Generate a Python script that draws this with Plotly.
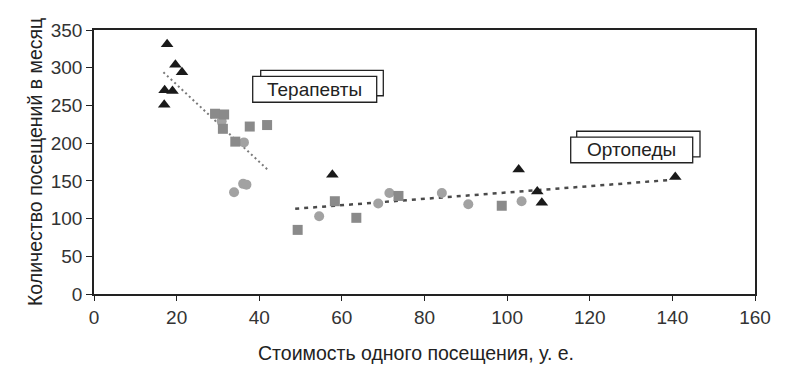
import plotly.graph_objects as go

# ---- data ----
tri_x = [17.7, 19.7, 21.3, 17.1, 19.0, 17.0, 57.7, 102.8, 107.3, 108.4, 140.7]
tri_y = [331, 304, 294, 270, 269, 251, 158, 165, 136, 121, 155]

sq_x = [29.3, 31.5, 31.2, 37.7, 41.9, 34.2, 58.3, 49.3, 63.5, 73.7, 98.7]
sq_y = [239, 238, 219, 222, 224, 202, 123, 85, 101, 130, 117]

circ_x = [30.9, 36.3, 33.9, 36.1, 36.9, 54.5, 68.8, 71.5, 84.2, 90.6, 103.5]
circ_y = [229, 201, 135, 146, 145, 103, 120, 134, 134, 119, 123]

trend_ther_x = [16.8, 42.0]
trend_ther_y = [294, 165]
trend_orth_x = [48.7, 139.0]
trend_orth_y = [113, 151]

x_ticks = [0, 20, 40, 60, 80, 100, 120, 140, 160]
y_ticks = [0, 50, 100, 150, 200, 250, 300, 350]

x_title = "Стоимость одного посещения, у. е."
y_title = "Количество посещений в месяц"
label_ther = "Терапевты"
label_orth = "Ортопеды"

# ---- layout geometry (screen pixels; page body has an 8px margin) ----
W, H = 802, 372
OFF = 8
L, R, T, B = 94, 755, 21, 294
XMAX, YMAX = 160, 350


def px2x(px):
    return (px - L) / (R - L) * XMAX


def py2y(py):
    return (B - py) / (B - T) * YMAX


FONT = "Liberation Sans, Arial, sans-serif"

fig = go.Figure()

fig.add_trace(go.Scatter(x=trend_ther_x, y=trend_ther_y, mode="lines",
                         line=dict(color="#7a7a7a", width=2, dash="2px,3px"),
                         showlegend=False, hoverinfo="skip"))
fig.add_trace(go.Scatter(x=trend_orth_x, y=trend_orth_y, mode="lines",
                         line=dict(color="#4a4a4a", width=2.5, dash="4px,5px"),
                         showlegend=False, hoverinfo="skip"))

fig.add_trace(go.Scatter(x=circ_x, y=circ_y, mode="markers",
                         marker=dict(symbol="circle", size=10, color="#a2a2a2"),
                         showlegend=False))
fig.add_trace(go.Scatter(x=sq_x, y=sq_y, mode="markers",
                         marker=dict(symbol="square", size=10, color="#8a8a8a"),
                         showlegend=False))
fig.add_trace(go.Scatter(x=tri_x, y=tri_y, mode="markers",
                         marker=dict(symbol="triangle-up", size=11, color="#1a1a1a"),
                         showlegend=False))

# label boxes (back box then front box), screen pixel coordinates
boxes = [
    ((260.7, 62.7, 383.3, 89.0), (252.7, 69.0, 376.7, 95.7), label_ther),
    ((576.7, 125.7, 700.0, 152.3), (570.7, 131.7, 692.7, 158.3), label_orth),
]
for back, front, text in boxes:
    for (x0, y0, x1, y1) in (back, front):
        fig.add_shape(type="rect", xref="x", yref="y",
                      x0=px2x(x0), x1=px2x(x1), y0=py2y(y0), y1=py2y(y1),
                      line=dict(color="#222222", width=1.3),
                      fillcolor="white", layer="above")
    fig.add_annotation(x=px2x((front[0] + front[2]) / 2),
                       y=py2y((front[1] + front[3]) / 2),
                       xref="x", yref="y", text=text, showarrow=False,
                       font=dict(family=FONT, size=19, color="#222222"))

# axis titles
fig.add_annotation(x=0, y=0.5, xref="paper", yref="paper", xshift=-(L - 35),
                   text=y_title, textangle=-90, showarrow=False,
                   xanchor="center", yanchor="middle",
                   font=dict(family=FONT, size=19.5, color="#222222"))
fig.add_annotation(x=(416 - L) / (R - L), y=0, xref="paper", yref="paper",
                   yshift=-(353 - B),
                   text=x_title, showarrow=False,
                   xanchor="center", yanchor="middle",
                   font=dict(family=FONT, size=19.5, color="#222222"))

axis_common = dict(showgrid=False, zeroline=False, showline=True, mirror=True,
                   linecolor="#222222", linewidth=1.5, ticks="outside",
                   tickcolor="#222222", tickwidth=1.3,
                   tickfont=dict(family=FONT, size=19, color="#333333"))

fig.update_xaxes(range=[0, XMAX], tickvals=x_ticks, ticklen=5, **axis_common)
fig.update_yaxes(range=[0, YMAX], tickvals=y_ticks, ticklen=6, **axis_common)

fig.update_layout(width=W, height=H,
                  margin=dict(l=L - OFF, r=W - (R - OFF), t=T - OFF, b=H - (B - OFF)),
                  paper_bgcolor="white", plot_bgcolor="white",
                  font=dict(family=FONT))

fig.write_html("out.html")
